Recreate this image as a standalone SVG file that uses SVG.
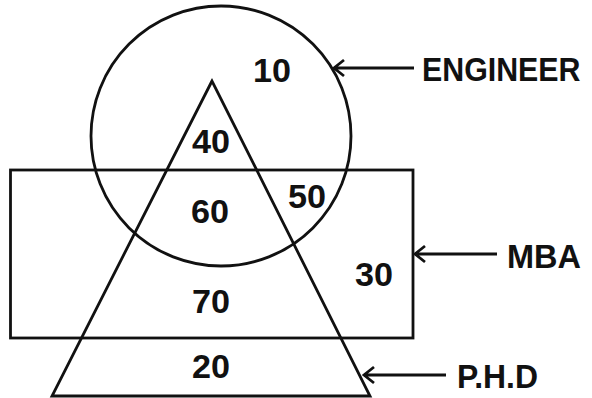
<svg xmlns="http://www.w3.org/2000/svg" width="592" height="398" viewBox="0 0 592 398">
<style>
.s{fill:none;stroke:#111;stroke-width:2.8}
.n{font-family:"Liberation Sans",Arial,sans-serif;font-weight:bold;font-size:34px;fill:#111;text-anchor:middle}
.l{font-family:"Liberation Sans",Arial,sans-serif;font-weight:bold;font-size:33px;fill:#111}
.a{fill:none;stroke:#111;stroke-width:2.8}
</style>
<rect width="592" height="398" fill="#fff"/>
<g id="engineer"><circle class="s" cx="221" cy="136" r="130"/></g>
<g id="mba"><rect class="s" x="10.5" y="170" width="402.5" height="168"/></g>
<g id="phd"><polygon class="s" points="212,81 52,396 370,396"/></g>
<g id="numbers">
<text class="n" x="272" y="82" textLength="38" lengthAdjust="spacingAndGlyphs">10</text>
<text class="n" x="211" y="153" textLength="38" lengthAdjust="spacingAndGlyphs">40</text>
<text class="n" x="210" y="223" textLength="38" lengthAdjust="spacingAndGlyphs">60</text>
<text class="n" x="307" y="208" textLength="38" lengthAdjust="spacingAndGlyphs">50</text>
<text class="n" x="374" y="286" textLength="38" lengthAdjust="spacingAndGlyphs">30</text>
<text class="n" x="211" y="313" textLength="38" lengthAdjust="spacingAndGlyphs">70</text>
<text class="n" x="211" y="378" textLength="38" lengthAdjust="spacingAndGlyphs">20</text>
</g>
<g id="connectors">
<path class="a" d="M414,68 H334 M344,60 L334,68 L344,76"/>
<path class="a" d="M497,254 H415 M425,246 L415,254 L425,262"/>
<path class="a" d="M446,375 H364 M374,367 L364,375 L374,383"/>
</g>
<g id="labels">
<text class="l" transform="translate(422,81) scale(0.92,1)" x="0" y="0">ENGINEER</text>
<text class="l" x="507" y="268" textLength="74" lengthAdjust="spacingAndGlyphs">MBA</text>
<text class="l" x="457" y="388" textLength="81" lengthAdjust="spacingAndGlyphs">P.H.D</text>
</g>
</svg>
